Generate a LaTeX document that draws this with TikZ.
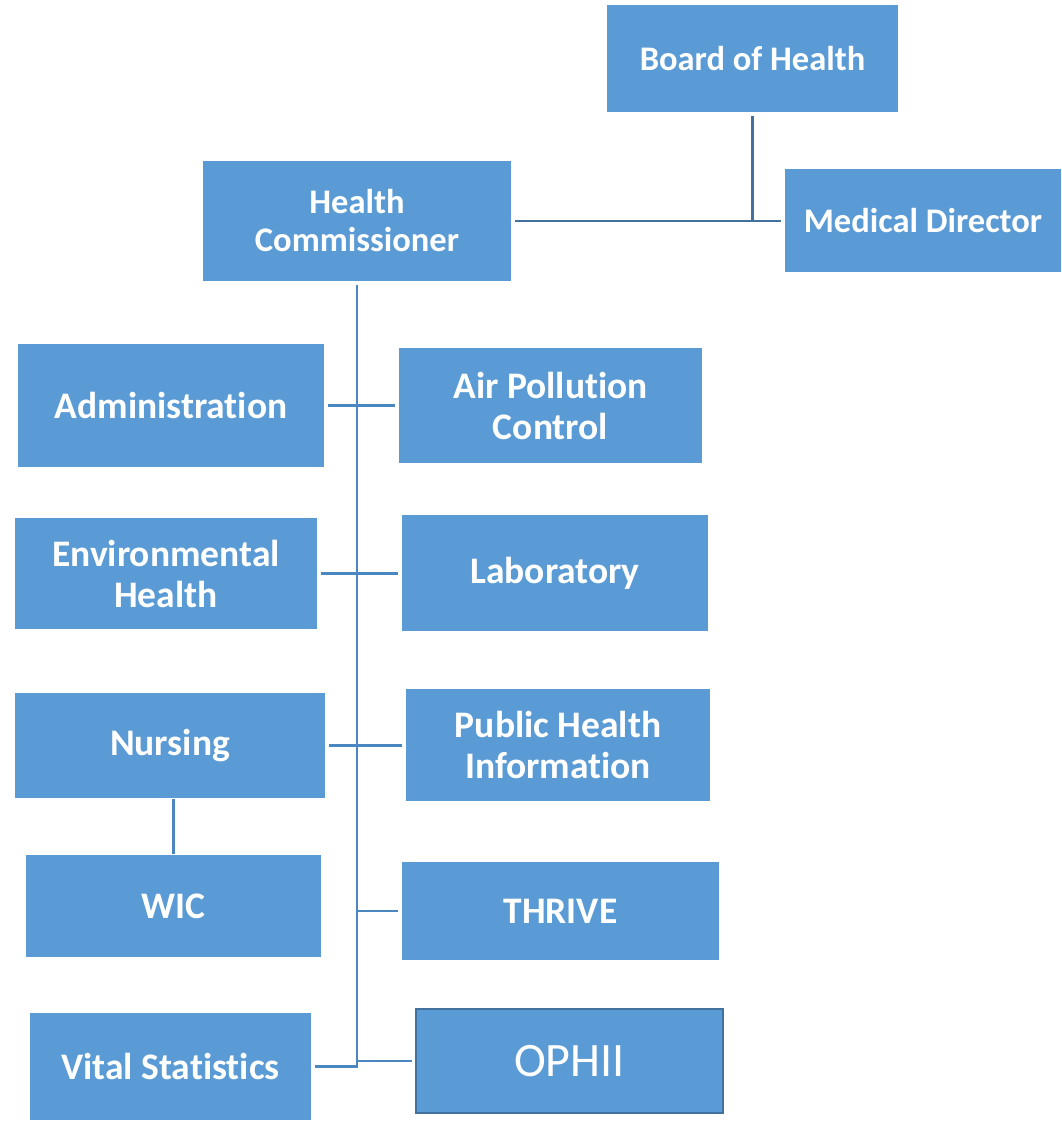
\documentclass[tikz,border=0pt]{standalone}
\usepackage{fontspec}
\setmainfont{Carlito}[Ligatures=NoCommon]
\definecolor{unitblue}{HTML}{5B9BD5}
\definecolor{linkblue}{HTML}{4A86C0}
\definecolor{darkblue}{HTML}{41719C}

\begin{document}
\begin{tikzpicture}[x=1pt,y=-1pt,-,line width=2.6pt,
  unit/.style={fill=unitblue, text=white, inner sep=0pt, align=center,
    font=\bfseries\fontsize{37.5}{41}\selectfont},
  head/.style={unit, font=\bfseries\fontsize{34.5}{38}\selectfont},
  link/.style={draw=linkblue, shorten <=3pt, shorten >=3pt}]
  \useasboundingbox (0,0) rectangle (1061,1121);
  \node (BOH) [head, minimum width=291, minimum height=107] at (752.5,58.5) {Board of Health};
  \node (MD)  [head, minimum width=276, minimum height=103] at (923,220.5) {Medical Director};
  \node (HC)  [head, minimum width=308, minimum height=120] at (357,221) {Health\\Commissioner};
  \node (ADM) [unit, minimum width=306, minimum height=123] at (171,405.5) {Administration};
  \node (APC) [unit, minimum width=303, minimum height=115] at (550.5,405.5) {Air Pollution\\Control};
  \node (ENV) [unit, minimum width=302, minimum height=111] at (166,573.5) {Environmental\\Health};
  \node (LAB) [unit, minimum width=306, minimum height=116] at (555,573) {Laboratory};
  \node (NUR) [unit, minimum width=310, minimum height=105] at (170,745.5) {Nursing};
  \node (PHI) [unit, minimum width=304, minimum height=112] at (558,745) {Public Health\\Information};
  \node (WIC) [unit, minimum width=295, minimum height=102] at (173.5,906) {WIC};
  \node (THR) [unit, minimum width=317, minimum height=98]  at (560.5,911) {THRIVE};
  \node (VS)  [unit, minimum width=281, minimum height=107] at (170.5,1066.5) {Vital Statistics};
  \node (OPH) [unit, draw=darkblue, line width=2pt, minimum width=307, minimum height=104,
    font=\fontsize{48}{52}\selectfont] at (569.5,1061) {OPHII};
  \coordinate (J) at (BOH.south |- MD.west);
  % top of the chart
  \draw [link, draw=darkblue, shorten >=0pt] (BOH.south) -- (J);
  \draw [link, draw=darkblue] (HC.east) -- (HC.east -| MD.west);
  % trunk
  \draw [draw=linkblue, line join=miter] ([yshift=-3pt]HC.south) -- (HC.south |- VS.east) -- ([xshift=3pt]VS.east);
  \path (ADM.east) edge [link] (ADM.east -| APC.west)
        (ENV.east) edge [link] (ENV.east -| LAB.west)
        (NUR.east) edge [link] (NUR.east -| PHI.west)
        (NUR.south -| WIC.north) edge [link, shorten <=0pt, shorten >=0pt] (WIC.north)
        (HC.south |- THR.west) edge [link, shorten <=0pt] (THR.west)
        (HC.south |- OPH.west) edge [link, shorten <=0pt] (OPH.west);
\end{tikzpicture}
\end{document}
